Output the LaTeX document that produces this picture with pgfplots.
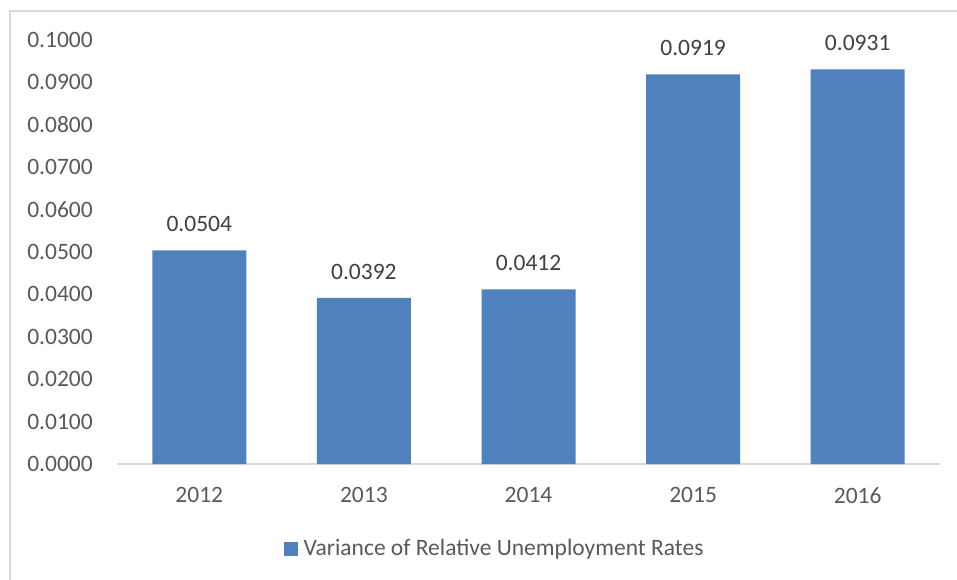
\documentclass[border=0pt]{standalone}
\usepackage{pgfplots}
\pgfplotsset{compat=1.18}
\usepackage{fontspec}
\setmainfont{Carlito}
\definecolor{barblue}{HTML}{4F81BD}
\definecolor{txtgray}{HTML}{595959}
\definecolor{linegray}{HTML}{D9D9D9}
\begin{document}
\fontsize{23.5pt}{28pt}\selectfont
\begin{tikzpicture}[x=1pt,y=1pt]
\path[use as bounding box] (0,0) rectangle (957,-580);
\draw[linegray, line width=1.5pt] (10,-580) -- (10,-11) -- (957,-11);
\begin{axis}[
  at={(117pt,-464pt)}, anchor=south west,
  scale only axis, width=823pt, height=424pt,
  xmin=-0.5, xmax=4.5, ymin=0, ymax=0.1,
  axis y line*=left,
  axis x line*=bottom,
  y axis line style={draw=none},
  x axis line style={linegray, line width=1.2pt, -},
  xtick=data,
  xticklabels={2012,2013,2014,2015,2016},
  ytick={0,0.01,...,0.1},
  major tick length=0pt,
  every tick label/.append style={font=\fontsize{23.5pt}{28pt}\selectfont, text=txtgray},
  xticklabel style={anchor=north, inner sep=0pt, yshift=-23pt},
  yticklabel style={anchor=east, inner sep=0pt, xshift=-24pt},
  /pgf/number format/assume math mode=true,
  yticklabel={\pgfmathprintnumber[fixed, fixed zerofill, precision=4]{\tick}},
  clip=false,
  legend style={at={(axis description cs:0.4575,-0.2005)}, anchor=center, draw=none, fill=none,
    font=\fontsize{23.5pt}{28pt}\selectfont, text=txtgray, inner sep=0pt,
    nodes={inner sep=0pt}},
  legend image code/.code={\fill[barblue] (0pt,-7pt) rectangle (14pt,7pt); \path (0pt,0pt) -- (20pt,0pt);},
  nodes near coords={\pgfmathprintnumber[fixed, fixed zerofill, precision=4, assume math mode=true]{\pgfplotspointmeta}},
  nodes near coords style={anchor=south, inner sep=0pt, yshift=18pt, text=black!75, font=\fontsize{23.5pt}{28pt}\selectfont},
]
\addplot[ybar, bar width=94pt, fill=barblue, draw=none] coordinates {
  (0,0.0504) (1,0.0392) (2,0.0412) (3,0.0919) (4,0.0931)
};
\addlegendentry{Variance of Relative Unemployment Rates}
\end{axis}
\end{tikzpicture}
\end{document}
